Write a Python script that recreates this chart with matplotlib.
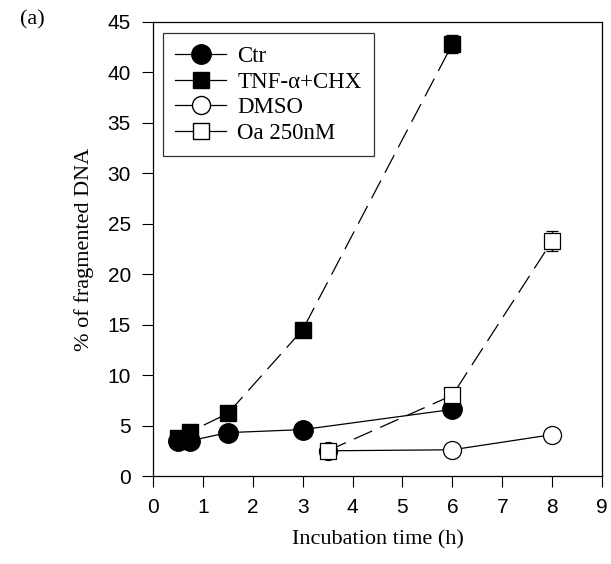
import numpy as np
import matplotlib.pyplot as plt

# data
t_ctr = [0.5, 0.75, 1.5, 3, 6]
ctr = [3.5, 3.5, 4.3, 4.6, 6.6]

t_tnf = [0.5, 0.75, 1.5, 3, 6]
tnf = [3.8, 4.4, 6.2, 14.5, 42.8]
tnf_err = [0, 0, 0, 0, 0.9]

t_dmso = [3.5, 6, 8]
dmso = [2.5, 2.6, 4.1]

t_oa = [3.5, 6, 8]
oa = [2.5, 8.0, 23.3]
oa_err = [0, 0, 1.0]

serif = 'Liberation Serif'
sans = 'Liberation Sans'

fig = plt.figure(figsize=(6.11, 5.64), dpi=100)
ax = fig.add_axes([0.2504, 0.156, 0.7349, 0.805])

dash = (0, (16, 7))
ax.plot(t_ctr, ctr, '-', color='k', lw=0.9, marker='o', ms=14,
        mfc='k', mec='k', label='Ctr', zorder=3)
ax.errorbar(t_tnf, tnf, yerr=tnf_err, color='k', lw=0.9, ls=dash, marker='s',
            ms=11, mfc='k', mec='k', capsize=4, elinewidth=0.9,
            label='TNF-\u03b1+CHX', zorder=3)
ax.plot(t_dmso, dmso, '-', color='k', lw=0.9, marker='o', ms=13,
        mfc='white', mec='k', mew=0.9, label='DMSO', zorder=3)
ax.errorbar(t_oa, oa, yerr=oa_err, color='k', lw=0.9, ls=dash, marker='s',
            ms=11, mfc='white', mec='k', mew=0.9, capsize=4, elinewidth=0.9,
            label='Oa 250nM', zorder=3)

ax.set_xlim(0, 9)
ax.set_ylim(0, 45)
ax.set_xticks(np.arange(0, 10, 1))
ax.set_yticks(np.arange(0, 50, 5))
ax.tick_params(direction='out', length=8, width=0.8, labelsize=15, pad=8,
               top=False, right=False)
for lab in ax.get_xticklabels() + ax.get_yticklabels():
    lab.set_fontfamily(sans)
for s in ax.spines.values():
    s.set_linewidth(0.9)

ax.set_xlabel('Incubation time (h)', fontfamily=serif, fontsize=16, labelpad=9)
ax.set_ylabel('% of fragmented DNA', fontfamily=serif, fontsize=16, labelpad=10)

# legend: plain lines/markers (no dashes, no error bars)
handles = [
    plt.Line2D([], [], color='k', lw=0.9, marker='o', ms=14, mfc='k'),
    plt.Line2D([], [], color='k', lw=0.9, marker='s', ms=11, mfc='k'),
    plt.Line2D([], [], color='k', lw=0.9, marker='o', ms=13, mfc='white'),
    plt.Line2D([], [], color='k', lw=0.9, marker='s', ms=11, mfc='white'),
]
labels = ['Ctr', 'TNF-\u03b1+CHX', 'DMSO', 'Oa 250nM']
leg = ax.legend(handles, labels, loc='upper left', bbox_to_anchor=(0.022, 0.975),
                prop={'family': serif, 'size': 16.5}, frameon=True, fancybox=False,
                edgecolor='k', handlelength=2.2, handletextpad=0.5,
                labelspacing=0.2, borderpad=0.55, borderaxespad=0)
leg.get_frame().set_linewidth(0.9)

fig.text(0.033, 0.965, '(a)', fontfamily=serif, fontsize=16, va='center')

fig.savefig('out.png', dpi=100)
